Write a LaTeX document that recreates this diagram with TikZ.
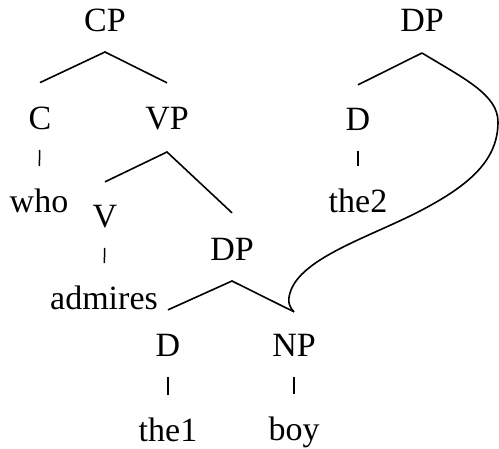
\documentclass[tikz,border=0pt]{standalone}
\usepackage{fontspec}
\setmainfont{Liberation Serif}
\usetikzlibrary{calc}
\tikzset{
  lbl/.style={font=\fontsize{17}{20}\selectfont, inner sep=0pt, anchor=base},
  branch/.style={line width=0.8pt, line join=miter},
  tick/.style={line width=0.75pt, shorten <=10pt, shorten >=11.5pt},
}
\begin{document}
\begin{tikzpicture}[x=0.5pt, y=-0.5pt]
        \useasboundingbox (0,0) rectangle (499,449);
        % ── main tree ──
        \node[lbl] (cp) at (105,32) {CP};
        \node[lbl] (c) at (40,130) {C};
        \node[lbl] (vp) at (167,130) {VP};
        \node[lbl] (who) at (39,213) {who};
        \node[lbl] (v) at (105,228) {V};
        \node[lbl] (admires) at (104,310) {admires};
        \node[lbl] (dpa) at (232,261) {DP};
        \node[lbl] (da) at (168,357) {D};
        \node[lbl] (np) at (294,357) {NP};
        \node[lbl] (thea) at (168,442) {the1};
        \node[lbl] (boy) at (294,441) {boy};

        % ── second DP ──
        \node[lbl] (dpb) at (422,32) {DP};
        \node[lbl] (db) at (358,131) {D};
        \node[lbl] (theb) at (358,213) {the2};

        % branches
        \draw[branch] ([yshift=12.25pt]c.north) -- ([yshift=-10pt]cp.base)
              -- ([yshift=12.25pt]vp.north);
        \draw[branch] ([yshift=11.75pt]v.north) -- ([yshift=-11pt]vp.base)
              -- ([yshift=12.75pt]dpa.north);
        \coordinate (np-top) at ([yshift=11.25pt]np.north);
        \draw[branch] ([yshift=12.25pt]da.north) -- ([yshift=-10pt]dpa.base)
              -- (np-top);
        \coordinate (dpb-top) at ([yshift=-10.5pt]dpb.base);
        \draw[branch] ([yshift=11.75pt]db.north) -- (dpb-top);

        % curved branch down to NP
        \draw[branch] (dpb-top) .. controls (465,79) and (498,95) .. (498,122)
              .. controls (498,160) and (470,185) .. (420,211)
              .. controls (370,237) and (300,258) .. (290,293)
              .. controls (287,302) and (290,308) .. (np-top);

        % lexical ticks
        \draw[tick] (c.base) -- (who.north);
        \draw[tick] (v.base) -- (admires.north);
        \draw[tick] (da.base) -- (thea.north);
        \draw[tick] (np.base) -- (boy.north);
        \draw[tick] (db.base) -- (theb.north);
\end{tikzpicture}
\end{document}
